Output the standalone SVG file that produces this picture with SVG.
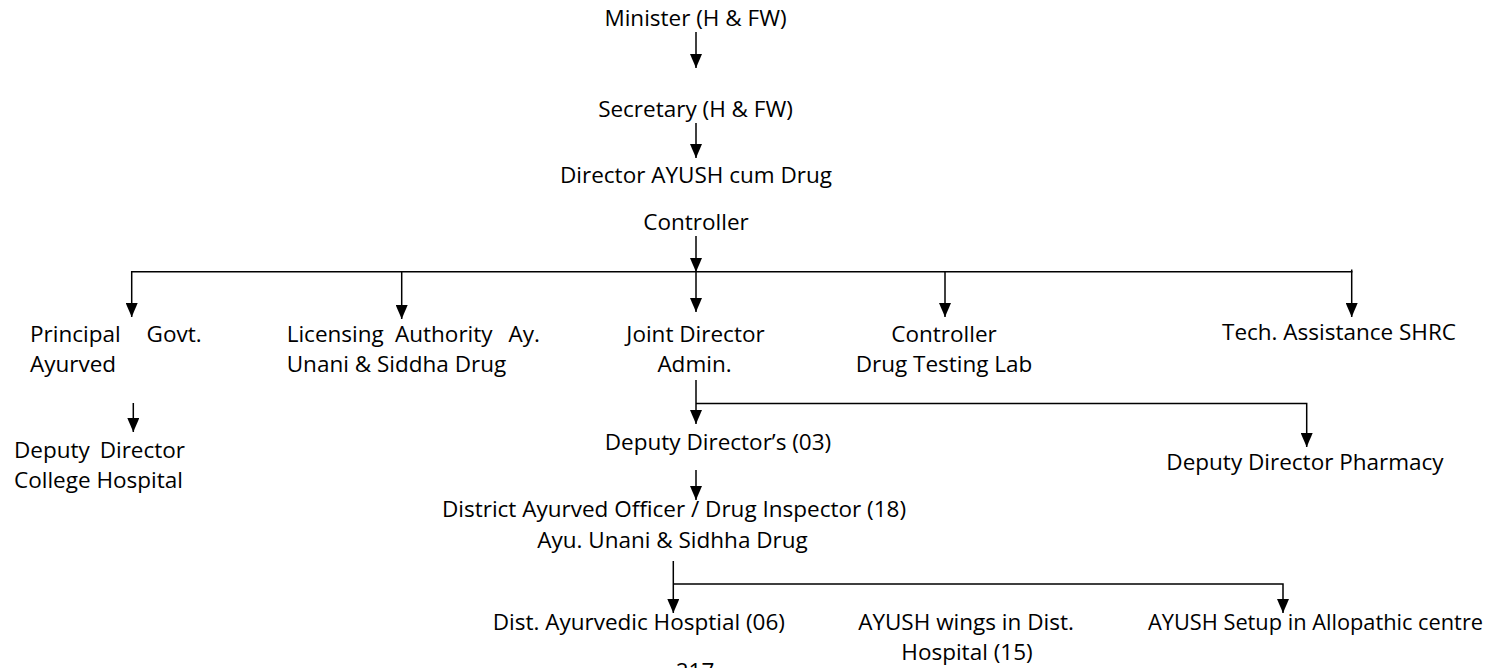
<svg xmlns="http://www.w3.org/2000/svg" width="1495" height="668" viewBox="0 0 1495 668">
<style>
text{font-family:"Open Sans","Noto Sans",sans-serif;font-size:22.5px;fill:#000}
.c{text-anchor:middle}
.ln{fill:none;stroke:#000;stroke-width:1.5}
</style>
<defs>
<marker id="ah" markerUnits="userSpaceOnUse" markerWidth="14" markerHeight="12" refX="14" refY="6" orient="auto">
<path d="M0,0 L14,6 L0,12 z" fill="#000"/>
</marker>
</defs>
<rect width="1495" height="668" fill="#fff"/>
<g id="connectors">
<path class="ln" d="M696,32 V68" marker-end="url(#ah)"/>
<path class="ln" d="M696,123 V158" marker-end="url(#ah)"/>
<path class="ln" d="M696,236 V272" marker-end="url(#ah)"/>
<path class="ln" d="M131.7,271.7 H1351.7 V269.5"/>
<path class="ln" d="M131.7,271 V317" marker-end="url(#ah)"/>
<path class="ln" d="M401.7,271 V319" marker-end="url(#ah)"/>
<path class="ln" d="M696,271 V312" marker-end="url(#ah)"/>
<path class="ln" d="M945,271 V317" marker-end="url(#ah)"/>
<path class="ln" d="M1351.7,271 V317" marker-end="url(#ah)"/>
<path class="ln" d="M133.3,403 V432" marker-end="url(#ah)"/>
<path class="ln" d="M696,380 V424" marker-end="url(#ah)"/>
<path class="ln" d="M696,403.5 H1306.7 V447" marker-end="url(#ah)"/>
<path class="ln" d="M696,470 V500" marker-end="url(#ah)"/>
<path class="ln" d="M673.3,561 V613" marker-end="url(#ah)"/>
<path class="ln" d="M673.3,584 H1283 V613" marker-end="url(#ah)"/>
</g>
<g id="minister"><text class="c" x="695.5" y="26">Minister (H &amp; FW)</text></g>
<g id="secretary"><text class="c" x="695.5" y="117">Secretary (H &amp; FW)</text></g>
<g id="director"><text class="c" x="696" y="183">Director AYUSH cum Drug</text><text class="c" x="696" y="230">Controller</text></g>
<g id="principal"><text x="30" y="341.7">Principal</text><text x="201.7" y="341.7" text-anchor="end">Govt.</text><text x="30" y="371.7">Ayurved</text></g>
<g id="deputy-college"><text x="14" y="458">Deputy</text><text x="185" y="458" text-anchor="end">Director</text><text x="14" y="488">College Hospital</text></g>
<g id="licensing"><text x="286.7" y="341.7">Licensing</text><text x="395" y="341.7">Authority</text><text x="540" y="341.7" text-anchor="end">Ay.</text><text x="286.7" y="371.7">Unani &amp; Siddha Drug</text></g>
<g id="joint-director"><text class="c" x="695.5" y="341.7">Joint Director</text><text class="c" x="694.5" y="372">Admin.</text></g>
<g id="controller-lab"><text class="c" x="944" y="341.7">Controller</text><text class="c" x="944" y="372">Drug Testing Lab</text></g>
<g id="tech-assistance"><text class="c" x="1339" y="340">Tech. Assistance SHRC</text></g>
<g id="deputy-directors"><text class="c" x="718" y="450">Deputy Director’s (03)</text></g>
<g id="deputy-pharmacy"><text class="c" x="1305" y="470">Deputy Director Pharmacy</text></g>
<g id="district-officer"><text class="c" x="674" y="516.7">District Ayurved Officer / Drug Inspector (18)</text><text class="c" x="672.5" y="548.3">Ayu. Unani &amp; Sidhha Drug</text></g>
<g id="dist-hospital"><text class="c" x="638.8" y="630">Dist. Ayurvedic Hosptial (06)</text></g>
<g id="ayush-wings"><text class="c" x="966" y="630">AYUSH wings in Dist.</text><text class="c" x="967" y="660">Hospital (15)</text></g>
<g id="ayush-setup"><text x="1148" y="630" textLength="335" lengthAdjust="spacingAndGlyphs">AYUSH Setup in Allopathic centre</text></g>
<text class="c" x="695" y="679">217</text>
</svg>
